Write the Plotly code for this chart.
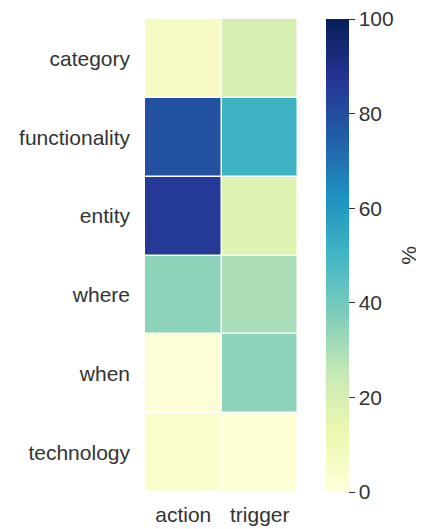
import plotly.graph_objects as go

rows = ["category", "functionality", "entity", "where", "when", "technology"]
cols = ["action", "trigger"]
action = [7, 79, 86, 35, 1, 4]
trigger = [20, 51, 17, 30, 35, 1.5]

z = [[a, t] for a, t in zip(action, trigger)]

ylgnbu = [
    [0.0, "#ffffd9"], [0.125, "#edf8b1"], [0.25, "#c7e9b4"], [0.375, "#7fcdbb"],
    [0.5, "#41b6c4"], [0.625, "#1d91c0"], [0.75, "#225ea8"], [0.875, "#253494"],
    [1.0, "#081d58"],
]

font = dict(family="Liberation Sans, Arial, sans-serif", size=21, color="#333333")

fig = go.Figure(go.Heatmap(
    z=z, x=cols, y=rows,
    colorscale=ylgnbu, zmin=0, zmax=100,
    xgap=1.5, ygap=1.5,
    colorbar=dict(
        x=1.183, xanchor="left", xref="paper", xpad=0,
        y=0.5, yanchor="middle", len=1.0, lenmode="fraction", ypad=0,
        thickness=23, outlinewidth=0,
        tickvals=[0, 20, 40, 60, 80, 100],
        ticks="outside", ticklen=6, tickwidth=1, tickcolor="#333333",
        tickfont=font, ticklabeloverflow="allow",
    ),
))

fig.add_annotation(
    text="%", x=1.72, y=0.5, xref="paper", yref="paper",
    xanchor="center", yanchor="middle", showarrow=False,
    textangle=-90, font=font,
)

fig.update_layout(
    width=424, height=529,
    margin=dict(l=132, r=134, t=11, b=43),
    paper_bgcolor="white", plot_bgcolor="white",
    font=font,
    xaxis=dict(showgrid=False, zeroline=False, ticks="", tickfont=font, side="bottom",
               ticklabelstandoff=8),
    yaxis=dict(showgrid=False, zeroline=False, ticks="", tickfont=font,
               autorange="reversed", ticklabelstandoff=14),
)

fig.write_html("out.html")
